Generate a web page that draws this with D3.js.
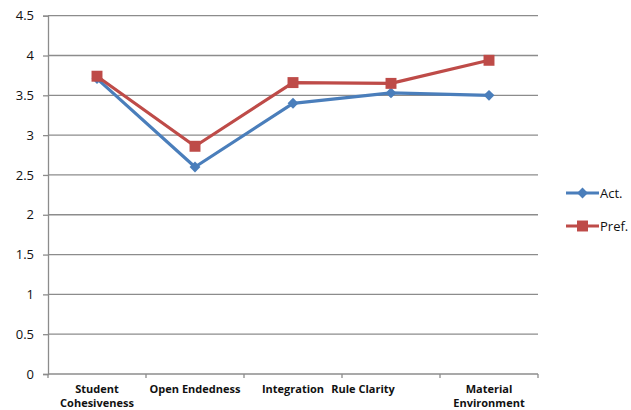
<!DOCTYPE html>
<html>
<head>
<meta charset="utf-8">
<script src="https://cdn.jsdelivr.net/npm/d3@7"></script>
<style>
  html, body { margin: 0; padding: 0; background: #fff; }
  svg { display: block; font-family: "Open Sans", "Liberation Sans", sans-serif; }
</style>
</head>
<body>
<svg id="chart" width="631" height="410"></svg>
<script>
// Classroom environment scales: actual vs preferred mean scores
const categories = ["Student Cohesiveness", "Open Endedness", "Integration", "Rule Clarity", "Material Environment"];
const actual = [3.71, 2.60, 3.40, 3.53, 3.50];
const preferred = [3.74, 2.86, 3.66, 3.65, 3.94];
const yTicks = [0, 0.5, 1, 1.5, 2, 2.5, 3, 3.5, 4, 4.5];
const seriesNames = ["Act.", "Pref."];

const svg = d3.select("#chart");
const m = { left: 48, right: 538, top: 15.7, bottom: 374 };

const x = d3.scaleBand().domain(categories).range([m.left, m.right]);
const y = d3.scaleLinear().domain([0, 4.5]).range([m.bottom, m.top]);

// horizontal gridlines
svg.append("g").selectAll("line").data(yTicks.filter(d => d > 0)).join("line")
  .attr("x1", m.left).attr("x2", m.right)
  .attr("y1", d => y(d)).attr("y2", d => y(d))
  .attr("stroke", "#8c8c8c").attr("stroke-width", 1.3);

// y axis
const yAxis = svg.append("g").attr("transform", `translate(${m.left},0)`)
  .call(d3.axisLeft(y).tickValues(yTicks).tickSize(5).tickPadding(9).tickFormat(d3.format("")));
yAxis.select(".domain").attr("stroke", "#8c8c8c").attr("stroke-width", 1.3);
yAxis.selectAll(".tick line").attr("stroke", "#8c8c8c").attr("stroke-width", 1.3);
yAxis.selectAll(".tick text").attr("font-size", 13).attr("fill", "#111")
  .attr("font-family", "'Open Sans', sans-serif");

// x axis with tick marks at band edges
svg.append("line").attr("x1", m.left).attr("x2", m.right)
  .attr("y1", m.bottom).attr("y2", m.bottom)
  .attr("stroke", "#8c8c8c").attr("stroke-width", 1.3);
const edges = categories.map(c => x(c)).concat([m.right]);
svg.append("g").selectAll("line").data(edges).join("line")
  .attr("x1", d => d).attr("x2", d => d)
  .attr("y1", m.bottom).attr("y2", m.bottom + 4)
  .attr("stroke", "#8c8c8c").attr("stroke-width", 1.3);

// category labels (two-line labels drawn as separate text rows)
const wrap = { "Student Cohesiveness": ["Student", "Cohesiveness"], "Material Environment": ["Material", "Environment"] };
const labelShift = { "Rule Clarity": -28 };
const lab = svg.append("g").attr("font-size", 11).attr("font-weight", "bold").attr("fill", "#111")
  .attr("text-anchor", "middle");
categories.forEach(c => {
  const lines = wrap[c] || [c];
  const lx = x(c) + x.bandwidth() / 2 + (labelShift[c] || 0);
  lines.forEach((s, i) => lab.append("text").attr("x", lx).attr("y", 393 + i * 13.5).text(s));
});

const cx = c => x(c) + x.bandwidth() / 2;
const line = d3.line().x((d, i) => cx(categories[i])).y(d => y(d));

const colors = ["#4a7ebb", "#be4b48"];

function drawSeries(vals, color, marker) {
  const g = svg.append("g");
  g.append("path").datum(vals).attr("d", line)
    .attr("fill", "none").attr("stroke", color).attr("stroke-width", 3.2).attr("stroke-linejoin", "round");
  g.selectAll("path.mk").data(vals).join("path").attr("class", "mk")
    .attr("transform", (d, i) => `translate(${cx(categories[i])},${y(d)})`)
    .attr("d", marker).attr("fill", color);
}
const diamond = d3.symbol().type(d3.symbolDiamond2).size(75)();
const square = d3.symbol().type(d3.symbolSquare).size(120)();

drawSeries(actual, colors[0], diamond);
drawSeries(preferred, colors[1], square);

// legend
const legY = [193, 226];
const leg = svg.append("g");
seriesNames.forEach((n, i) => {
  leg.append("line").attr("x1", 566).attr("x2", 599).attr("y1", legY[i]).attr("y2", legY[i])
    .attr("stroke", colors[i]).attr("stroke-width", 3.2);
  leg.append("path").attr("transform", `translate(582.5,${legY[i]})`)
    .attr("d", i ? square : diamond).attr("fill", colors[i]);
  leg.append("text").attr("x", 600).attr("y", legY[i] + 5).attr("font-size", 13).attr("fill", "#111").text(n);
});
</script>
</body>
</html>
